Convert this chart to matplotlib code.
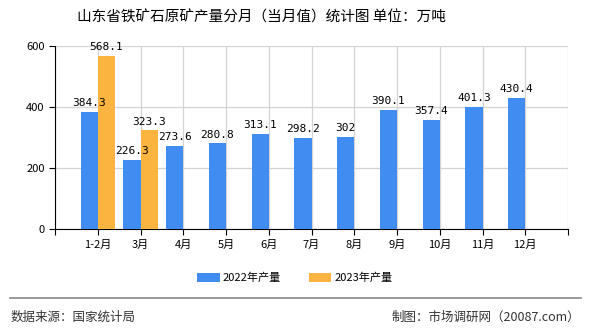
import matplotlib.pyplot as plt
import numpy as np

plt.rcParams['font.family'] = ['Noto Sans CJK SC', 'DejaVu Sans']

months = ['1-2月', '3月', '4月', '5月', '6月', '7月', '8月', '9月', '10月', '11月', '12月']
val_2022 = [384.3, 226.3, 273.6, 280.8, 313.1, 298.2, 302, 390.1, 357.4, 401.3, 430.4]
val_2023 = [568.1, 323.3]
labels_2022 = ['384.3', '226.3', '273.6', '280.8', '313.1', '298.2', '302', '390.1', '357.4', '401.3', '430.4']
labels_2023 = ['568.1', '323.3']

c22 = '#418cf0'
c23 = '#fcb441'

fig = plt.figure(figsize=(5.9, 3.3), dpi=100)
ax = fig.add_axes([55/590, 1-229/330, 513/590, 183/330])

x = np.arange(1, len(months) + 1)
w = 0.4
b1 = ax.bar(x - w/2, val_2022, width=w, color=c22, label='2022年产量', zorder=3)
x23 = x[:len(val_2023)]
b2 = ax.bar(x23 + w/2, val_2023, width=w, color=c23, label='2023年产量', zorder=3)

for xi, v, t in zip(x - w/2, val_2022, labels_2022):
    ax.text(xi, v + 12, t, ha='center', va='bottom', fontsize=8, family=['DejaVu Sans Mono'])
for xi, v, t in zip(x23 + w/2, val_2023, labels_2023):
    ax.text(xi, v + 12, t, ha='center', va='bottom', fontsize=8, family=['DejaVu Sans Mono'])

ax.set_xlim(0, 12)
ax.set_ylim(0, 600)
ax.set_yticks([0, 200, 400, 600])
ax.set_xticks(np.arange(0, 13))
ax.set_xticklabels([''] + months + [''], fontsize=8)
ax.tick_params(axis='y', labelsize=8, length=4)
ax.tick_params(axis='x', length=4)
ax.grid(True, color='#d3d3d3', linewidth=0.9, zorder=0)
for s in ['top', 'right']:
    ax.spines[s].set_visible(False)
ax.spines['left'].set_color('black')
ax.spines['bottom'].set_color('black')

fig.text(261/590, 1-17/330, '山东省铁矿石原矿产量分月（当月值）统计图 单位：万吨',
         ha='center', va='center', fontsize=10.5)

fig.legend(handles=[b1, b2], loc='center', bbox_to_anchor=(0.5, 1-278/330), ncol=2, frameon=False,
           fontsize=8, handlelength=2.0, handleheight=0.8, columnspacing=2.5, handletextpad=0.3)

fig.add_artist(plt.Line2D([10/590, 581/590], [1-298/330, 1-298/330], color='#888888', linewidth=1.2))
fig.text(11/590, 1-317/330, '数据来源：国家统计局', fontsize=9, va='center', color='#333333')
fig.text(1-10/590, 1-317/330, '制图：市场调研网（20087.com）', fontsize=9, va='center', ha='right', color='#333333')

fig.savefig('out.png', dpi=100)
